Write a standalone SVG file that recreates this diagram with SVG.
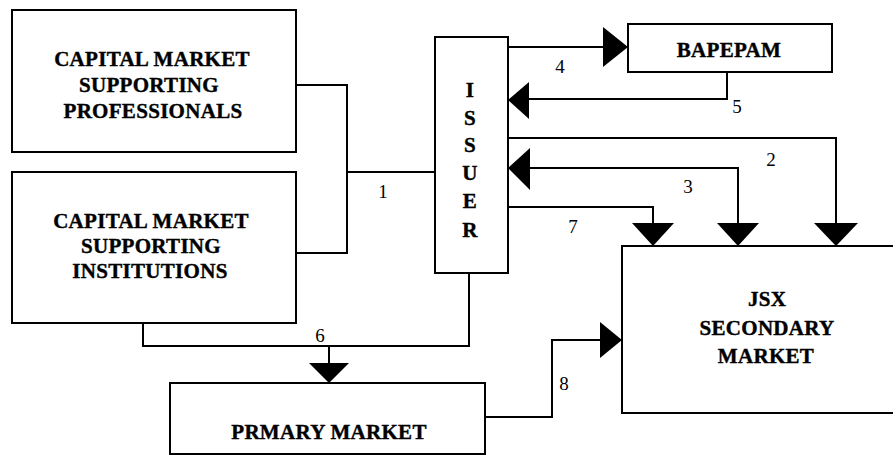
<svg xmlns="http://www.w3.org/2000/svg" width="893" height="456" viewBox="0 0 893 456">
<style>
.box{fill:#fff;stroke:#000;stroke-width:2}
.t{font-family:"Liberation Serif","Times New Roman",serif;font-weight:bold;font-size:21px;letter-spacing:0.3px;text-anchor:middle;fill:#000;stroke:#000;stroke-width:0.4}
.n{font-family:"Liberation Serif","Times New Roman",serif;font-size:19px;text-anchor:middle;fill:#000}
.ln{fill:none;stroke:#000;stroke-width:2}
.ah{fill:#000}
</style>
<rect width="893" height="456" fill="#fff"/>
<g id="connectors">
<path class="ln" d="M296,85 H347 V253 H296 M347,172 H435"/>
<path class="ln" d="M143,323 V346 H469 V273 M329,346 V364"/>
<path class="ln" d="M508,47 H604"/>
<path class="ln" d="M727,72 V99 H528"/>
<path class="ln" d="M508,138 H836 V224"/>
<path class="ln" d="M529,168 H738 V224"/>
<path class="ln" d="M508,207 H653 V224"/>
<path class="ln" d="M485,417 H552 V340 H601"/>
<polygon class="ah" points="628,47 603,27 603,67"/>
<polygon class="ah" points="508,100 529,82 529,119"/>
<polygon class="ah" points="508,168 530,148 530,190"/>
<polygon class="ah" points="653,246 632,223 674,223"/>
<polygon class="ah" points="738,246 717,223 759,223"/>
<polygon class="ah" points="836,246 814,223 858,223"/>
<polygon class="ah" points="329,383 309,363 349,363"/>
<polygon class="ah" points="622,340 600,322 600,358"/>
<text class="n" x="383" y="198">1</text>
<text class="n" x="771" y="166">2</text>
<text class="n" x="688" y="193">3</text>
<text class="n" x="560" y="73">4</text>
<text class="n" x="737" y="113">5</text>
<text class="n" x="320" y="342">6</text>
<text class="n" x="573" y="233">7</text>
<text class="n" x="564" y="390">8</text>
</g>
<g id="professionals">
<rect class="box" x="12" y="10" width="284" height="142"/>
<text class="t" x="152" y="66">CAPITAL MARKET</text>
<text class="t" x="149" y="92">SUPPORTING</text>
<text class="t" x="153" y="118">PROFESSIONALS</text>
</g>
<g id="institutions">
<rect class="box" x="12" y="172" width="284" height="151"/>
<text class="t" x="151" y="228">CAPITAL MARKET</text>
<text class="t" x="151" y="253">SUPPORTING</text>
<text class="t" x="150" y="278">INSTITUTIONS</text>
</g>
<g id="issuer">
<rect class="box" x="435" y="37" width="73" height="236"/>
<text class="t" x="470" y="97">I</text>
<text class="t" x="470" y="125">S</text>
<text class="t" x="470" y="152">S</text>
<text class="t" x="470" y="180">U</text>
<text class="t" x="470" y="208">E</text>
<text class="t" x="470" y="237">R</text>
</g>
<g id="bapepam">
<rect class="box" x="628" y="24" width="204" height="48"/>
<text class="t" x="729" y="57">BAPEPAM</text>
</g>
<g id="jsx">
<rect class="box" x="622" y="246" width="290" height="167"/>
<text class="t" x="767" y="306">JSX</text>
<text class="t" x="767" y="335">SECONDARY</text>
<text class="t" x="766" y="363">MARKET</text>
</g>
<g id="primary">
<rect class="box" x="170" y="383" width="315" height="71"/>
<text class="t" x="329" y="439">PRMARY MARKET</text>
</g>
</svg>
